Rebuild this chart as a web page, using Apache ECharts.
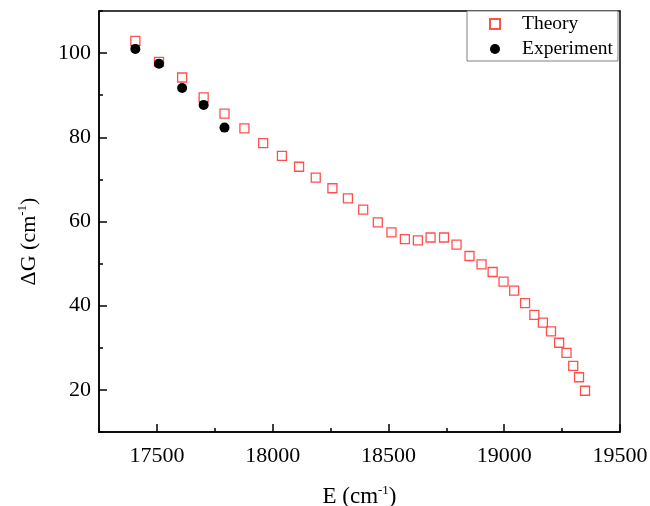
<!DOCTYPE html>
<html>
<head>
<meta charset="utf-8">
<script src="https://cdn.jsdelivr.net/npm/echarts@6/dist/echarts.min.js"></script>
<style>html,body{margin:0;padding:0;background:#fff}#c{width:650px;height:506px}</style>
</head>
<body>
<div id="c"></div>
<script>
var theoryE = [17407,17509,17609,17702,17792,17878,17959,18040,18114,18186,18258,18325,18391,18454,18513,18571,18627,18682,18740,18794,18850,18902,18950,18997,19043,19090,19130,19167,19202,19237,19269,19298,19323,19349];
var theoryG = [102.9,97.9,94.2,89.5,85.6,82.1,78.6,75.6,73.0,70.4,67.9,65.5,62.8,59.8,57.4,55.8,55.5,56.2,56.2,54.5,51.8,49.8,48.0,45.7,43.6,40.6,37.8,36.0,33.9,31.2,28.8,25.7,23.0,19.8];
var expE = [17407,17509,17609,17702,17792];
var expG = [101.0,97.5,91.7,87.7,82.3];
var seriesNames = ['Theory', 'Experiment'];

var FONT = 'Liberation Serif';
function pairs(xs, ys){ return xs.map(function(x,i){ return [x, ys[i]]; }); }

var chart = echarts.init(document.getElementById('c'), null, {renderer:'canvas'});
function richFor(size){
  return {
    a:{fontFamily:FONT, fontSize:size, color:'#000', lineHeight:26, verticalAlign:'bottom'},
    s:{fontFamily:FONT, fontSize:13, color:'#000', lineHeight:26, verticalAlign:'top', padding:[2,0,0,0]}
  };
}
chart.setOption({
  animation:false,
  backgroundColor:'#fff',
  grid:{left:99, right:30, top:11, bottom:74, containLabel:false, outerBoundsMode:'none',
    show:true, borderColor:'#000', borderWidth:1.5, backgroundColor:'transparent'},
  legend:{
    orient:'vertical', left:467, top:11,
    padding:[3,5,2,22],
    itemWidth:10, itemHeight:10, itemGap:5,
    backgroundColor:'#fff', borderColor:'#808080', borderWidth:1,
    textStyle:{fontFamily:FONT, fontSize:19.5, color:'#000', lineHeight:20, padding:[0,0,0,17]},
    data:seriesNames
  },
  xAxis:[{
    type:'value', min:17250, max:19500, splitNumber:5,
    axisLine:{show:true, lineStyle:{color:'#000', width:1.5}},
    axisTick:{show:true, inside:true, length:8, lineStyle:{color:'#000', width:1.5}},
    axisLabel:{fontFamily:FONT, fontSize:22, color:'#000', margin:13, showMinLabel:false, showMaxLabel:true,
      formatter:function(v){ return String(v); }},
    splitLine:{show:false},
    name:'{a|E (cm}{s|-1}{a|)}', nameLocation:'middle', nameGap:50,
    nameTextStyle:{rich:richFor(23)}
  },{
    type:'value', min:17250, max:19500, interval:500, position:'bottom',
    axisLine:{show:false},
    axisTick:{show:true, inside:true, length:4, lineStyle:{color:'#000', width:1.5}},
    axisLabel:{show:false}, splitLine:{show:false}
  }],
  yAxis:[{
    type:'value', min:10, max:110, splitNumber:5,
    axisLine:{show:true, lineStyle:{color:'#000', width:1.5}},
    axisTick:{show:true, inside:true, length:8, lineStyle:{color:'#000', width:1.5}},
    axisLabel:{fontFamily:FONT, fontSize:22, color:'#000', margin:8, showMinLabel:false, showMaxLabel:false},
    splitLine:{show:false},
    name:'{a|ΔG (cm}{s|-1}{a|)}', nameLocation:'middle', nameGap:59, nameRotate:90,
    nameTextStyle:{rich:richFor(22), padding:[0,40,0,0]}
  },{
    type:'value', min:10, max:110, interval:20, position:'left',
    axisLine:{show:false},
    axisTick:{show:true, inside:true, length:4, lineStyle:{color:'#000', width:1.5}},
    axisLabel:{show:false}, splitLine:{show:false}
  }],
  series:[{
    name:seriesNames[0], type:'scatter', xAxisIndex:0, yAxisIndex:0,
    symbol:'rect', symbolSize:9,
    itemStyle:{color:'rgba(255,255,255,0)', borderColor:'#ff5050', borderWidth:1.3, opacity:1},
    data:pairs(theoryE, theoryG), z:2
  },{
    name:seriesNames[1], type:'scatter', xAxisIndex:0, yAxisIndex:0,
    symbol:'circle', symbolSize:10,
    itemStyle:{color:'#000', opacity:1},
    data:pairs(expE, expG), z:3
  }]
});
</script>
</body>
</html>
